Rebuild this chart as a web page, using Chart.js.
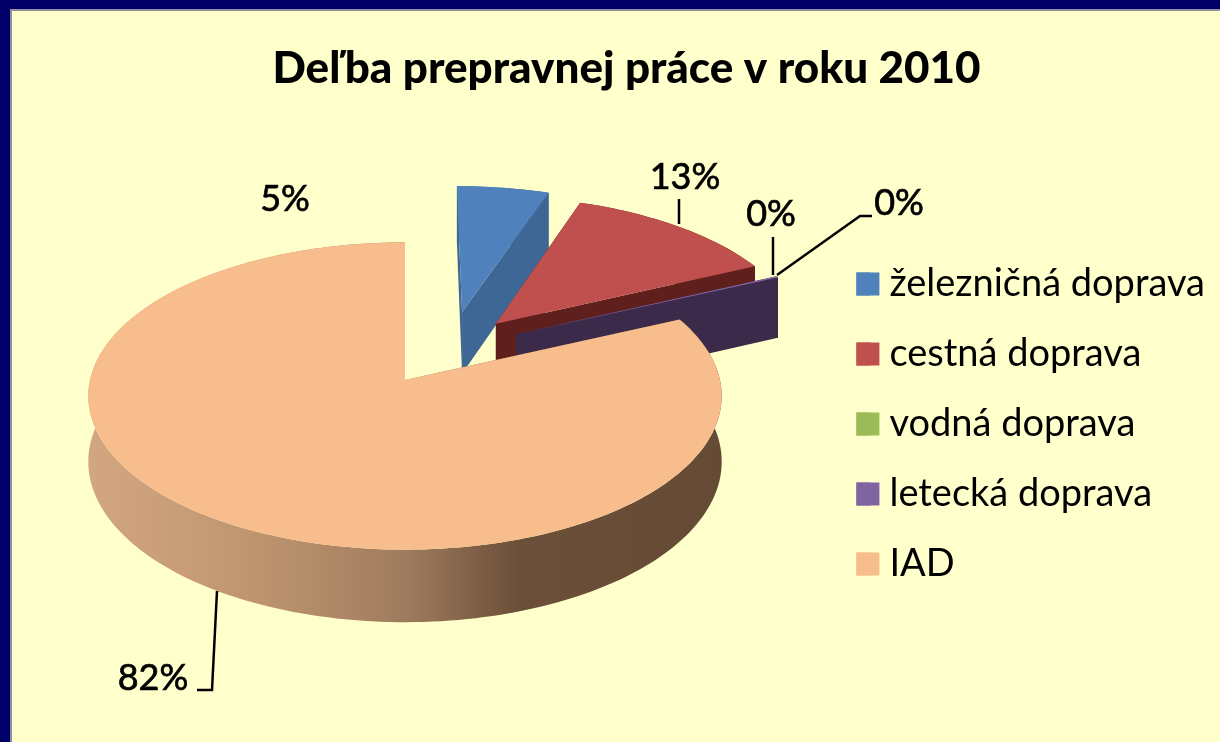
<!DOCTYPE html>
<html>
<head>
<meta charset="utf-8">
<title>Deľba prepravnej práce v roku 2010</title>
<style>
  html, body { margin: 0; padding: 0; background: #ffffcc; overflow: hidden; }
  #chart { position: absolute; left: 0; top: 0; }
  #frame {
    position: absolute; left: 0; top: 0; width: 1220px; height: 742px; box-sizing: border-box;
    border-top: 9px solid #000068; border-left: 10px solid #000068;
    box-shadow: inset 2px 2px 0 #8f8f9f; pointer-events: none;
  }
</style>
<script src="https://cdn.jsdelivr.net/npm/chart.js@4/dist/chart.umd.min.js"></script>
</head>
<body>
<canvas id="chart" width="1220" height="742"></canvas>
<div id="frame"></div>
<script>
// Data
const categories = ["železničná doprava", "cestná doprava", "vodná doprava", "letecká doprava", "IAD"];
const shares = [5.4, 12.6, 0.02, 0.15, 81.83];
const sliceColors = ["#4f81bd", "#c0504d", "#9bbb59", "#8064a2", "#f7bd8c"];
const wallColors = ["#3e6795", "#5f1f1c", "#5c7036", "#3b2a4a", null];

// 3D view: where the pie sits on the page, how much it tilts
const view = { x: 405, y: 380, rx: 315, ry: 152, persp: 0.104, depth: 65 };
// how far each slice is pulled out of the pie, in pie radii
const explodeX = [0.19, 0.3, 0.36, 0.364, 0];
const explodeY = [-0.47, -0.385, -0.31, -0.31, 0];

// labels and their leader lines
const labelSpots = [[285, 199], [685, 177], [771, 214], [899, 203], [153, 678]];
const leaders = [
  [],
  [[679, 199], [679, 224]],
  [[773, 237], [773, 275]],
  [[777, 275], [860, 216], [872, 216]],
  [[217, 591], [212, 690], [197, 690]]
];

// legend swatch is wider than the gap the legend leaves before its text
const swatchSize = 23;
const legendBoxWidth = 14;

function project(u, v, z) {
  const s = 1 / (1 - view.persp * v);
  return { x: view.x + view.rx * u * s, y: view.y + view.ry * v * s + z * view.depth * s };
}

function tracePath(ctx, pts) {
  ctx.beginPath();
  pts.forEach((p, i) => i ? ctx.lineTo(p.x, p.y) : ctx.moveTo(p.x, p.y));
  ctx.closePath();
}

// outline of a slice on the pie surface, z = 0 top, z = 1 bottom
function rimPoints(arc, i, z) {
  const steps = Math.max(2, Math.ceil((arc.endAngle - arc.startAngle) * 40));
  const pts = [];
  for (let k = 0; k <= steps; k++) {
    const a = arc.startAngle + (arc.endAngle - arc.startAngle) * k / steps;
    pts.push(project(explodeX[i] + Math.cos(a), explodeY[i] + Math.sin(a), z));
  }
  return pts;
}

function rimGradient(ctx) {
  const g = ctx.createLinearGradient(88, 0, 720, 0);
  g.addColorStop(0, "#d2a680");
  g.addColorStop(0.25, "#c09670");
  g.addColorStop(0.5, "#a07c5e");
  g.addColorStop(0.68, "#6c4f38");
  g.addColorStop(1, "#654a35");
  return g;
}

const pie3d = {
  id: "pie3d",
  beforeDatasetsDraw(chart) {
    const ctx = chart.ctx;
    const arcs = chart.getDatasetMeta(0).data;
    ctx.save();
    arcs.forEach((arc, i) => {
      if (arc.endAngle - arc.startAngle < 0.002) return;
      const apexTop = project(explodeX[i], explodeY[i], 0);
      const apexBottom = project(explodeX[i], explodeY[i], 1);
      const top = rimPoints(arc, i, 0);
      const bottom = rimPoints(arc, i, 1);

      // walls first, the top face goes over them
      ctx.fillStyle = wallColors[i] || rimGradient(ctx);
      [[apexTop, top[0], bottom[0], apexBottom],
       [apexTop, top[top.length - 1], bottom[bottom.length - 1], apexBottom],
       top.concat(bottom.slice().reverse())].forEach(pts => {
        tracePath(ctx, pts);
        ctx.fill();
      });

      ctx.fillStyle = sliceColors[i];
      tracePath(ctx, [apexTop].concat(top));
      ctx.fill();
    });
    ctx.restore();
    return false;
  }
};

const percentLabels = {
  id: "percentLabels",
  afterDraw(chart) {
    const ctx = chart.ctx;
    ctx.save();

    // widen the legend swatches
    chart.legend.legendHitBoxes.forEach((box, i) => {
      ctx.fillStyle = sliceColors[i];
      ctx.fillRect(box.left, box.top + box.height / 2 - swatchSize / 2, swatchSize, swatchSize);
    });

    ctx.strokeStyle = "#000";
    ctx.lineWidth = 2.5;
    leaders.forEach(line => {
      if (!line.length) return;
      ctx.beginPath();
      line.forEach((p, i) => i ? ctx.lineTo(p[0], p[1]) : ctx.moveTo(p[0], p[1]));
      ctx.stroke();
    });
    ctx.fillStyle = "#000";
    ctx.font = "36px Lato";
    ctx.textAlign = "center";
    ctx.textBaseline = "middle";
    ctx.lineWidth = 0.7;
    shares.forEach((v, i) => {
      const text = Math.round(v) + "%";
      ctx.fillText(text, labelSpots[i][0], labelSpots[i][1]);
      ctx.strokeText(text, labelSpots[i][0], labelSpots[i][1]);
    });
    ctx.restore();
  }
};

new Chart("chart", {
  type: "pie",
  data: {
    labels: categories,
    datasets: [{ data: shares, backgroundColor: sliceColors, borderWidth: 0 }]
  },
  plugins: [pie3d, percentLabels],
  options: {
    responsive: false,
    animation: false,
    layout: { padding: { left: 38, right: 5, top: 0, bottom: -106 } },
    plugins: {
      tooltip: { enabled: false },
      title: {
        display: true,
        text: "Deľba prepravnej práce v roku 2010",
        color: "#000",
        font: { family: "Lato", size: 44, weight: "900" },
        padding: { top: 42, bottom: 30 }
      },
      legend: {
        position: "right",
        labels: {
          color: "#000",
          font: { family: "Lato", size: 38 },
          boxWidth: legendBoxWidth,
          boxHeight: swatchSize,
          padding: 32
        }
      }
    }
  }
});
</script>
</body>
</html>
